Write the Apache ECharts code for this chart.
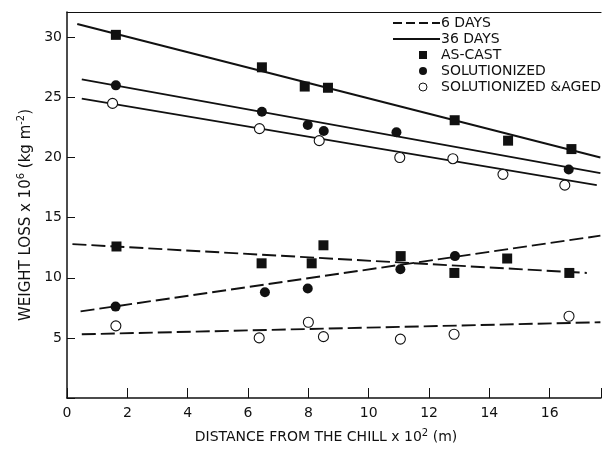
<!DOCTYPE html>
<html>
<head>
<meta charset="utf-8">
<script src="https://cdn.jsdelivr.net/npm/echarts@6/dist/echarts.min.js"></script>
<style>
  html, body { margin: 0; padding: 0; background: #fff; }
  #chart { width: 604px; height: 449px; }
</style>
</head>
<body>
<div id="chart"></div>
<script>
// distance from chill (x 10^2 m) and weight loss (x 10^6 kg m^-2)
const asCast36X = [1.62, 6.46, 7.88, 8.65, 12.85, 14.62, 16.72]
const asCast36Y = [30.2, 27.5, 25.9, 25.8, 23.1, 21.4, 20.7]
const sol36X = [1.62, 6.46, 7.98, 8.51, 10.92, 16.63]
const sol36Y = [26.0, 23.8, 22.7, 22.2, 22.1, 19.0]
const aged36X = [1.51, 6.38, 8.36, 11.03, 12.79, 14.45, 16.5]
const aged36Y = [24.5, 22.4, 21.4, 20.0, 19.9, 18.6, 17.7]

const asCast6X = [1.64, 6.45, 8.11, 8.5, 11.06, 12.84, 14.59, 16.65]
const asCast6Y = [12.6, 11.2, 11.2, 12.7, 11.8, 10.4, 11.6, 10.4]
const sol6X = [1.61, 6.56, 7.98, 11.05, 12.86]
const sol6Y = [7.6, 8.8, 9.1, 10.7, 11.8]
const aged6X = [1.62, 6.37, 8.0, 8.5, 11.05, 12.83, 16.64]
const aged6Y = [6.0, 5.0, 6.3, 5.1, 4.9, 5.3, 6.8]

// fitted lines, end points
const asCast36LineX = [0.34, 17.68], asCast36LineY = [31.1, 20.0]
const sol36LineX = [0.49, 17.68], sol36LineY = [26.5, 18.7]
const aged36LineX = [0.49, 17.56], aged36LineY = [24.9, 17.7]
const asCast6LineX = [0.18, 17.23], asCast6LineY = [12.8, 10.4]
const sol6LineX = [0.45, 17.68], sol6LineY = [7.2, 13.5]
const aged6LineX = [0.49, 17.68], aged6LineY = [5.3, 6.3]

const xTicks = [0, 2, 4, 6, 8, 10, 12, 14, 16]
const yTicks = [5, 10, 15, 20, 25, 30]

const legendItems = ['6 DAYS', '36 DAYS', 'AS-CAST', 'SOLUTIONIZED', 'SOLUTIONIZED &AGED']

const INK = '#111'
const FONT = 'DejaVu Sans'

const pairs = (xs, ys) => xs.map((x, i) => [x, ys[i]])

function fitLine(xs, ys, dashed) {
  return {
    type: 'line', data: pairs(xs, ys), symbol: 'none', silent: true,
    lineStyle: { color: INK, width: 1.9, type: dashed ? [14, 5] : 'solid' },
    z: 2
  }
}

function points(xs, ys, kind) {
  const s = {
    type: 'scatter', data: pairs(xs, ys), z: 3,
    symbol: kind === 'square' ? 'rect' : 'circle',
    symbolSize: 10,
    itemStyle: { color: INK, opacity: 1 }
  }
  if (kind === 'open') {
    s.itemStyle = { color: '#fff', borderColor: INK, borderWidth: 1.1, opacity: 1 }
  }
  return s
}

const chart = echarts.init(document.getElementById('chart'))

const lx1 = 393, lx2 = 440, tx = 441, ly = [23, 39, 55, 71, 87], mx = 423
const legendGraphics = [
  { type: 'line', shape: { x1: lx1, y1: ly[0], x2: lx2, y2: ly[0] }, style: { stroke: INK, lineWidth: 1.8, lineDash: [9, 4] } },
  { type: 'line', shape: { x1: lx1, y1: ly[1], x2: lx2, y2: ly[1] }, style: { stroke: INK, lineWidth: 1.8 } },
  { type: 'rect', shape: { x: mx - 4, y: ly[2] - 4, width: 8, height: 8 }, style: { fill: INK } },
  { type: 'circle', shape: { cx: mx, cy: ly[3], r: 4 }, style: { fill: INK } },
  { type: 'circle', shape: { cx: mx, cy: ly[4], r: 4 }, style: { fill: '#fff', stroke: INK, lineWidth: 1 } }
].concat(legendItems.map((t, i) => ({
  type: 'text', x: tx, y: ly[i],
  style: { text: t, font: '14px "' + FONT + '"', fill: INK, verticalAlign: 'middle', textVerticalAlign: 'middle' }
})))

chart.setOption({
  backgroundColor: '#fff',
  animation: false,
  grid: { left: 67, right: 3, top: 12, bottom: 43 },
  xAxis: [{
    type: 'value', min: 0, max: 17.7, interval: 2,
    axisLine: { lineStyle: { color: INK, width: 1.5 } },
    axisTick: { inside: true, length: 10, lineStyle: { color: INK } },
    axisLabel: {
      color: INK, fontFamily: FONT, fontSize: 14, margin: 8,
      formatter: v => (xTicks.includes(v) ? String(v) : '')
    },
    splitLine: { show: false },
    name: 'DISTANCE FROM THE CHILL x 10{sup|2} (m)',
    nameLocation: 'middle', nameGap: 30,
    nameTextStyle: {
      color: INK, fontFamily: FONT, fontSize: 14, padding: [0, 16, 0, 0],
      rich: { sup: { fontSize: 10, fontFamily: FONT, color: INK, padding: [0, 0, 8, 0] } }
    }
  }, {
    type: 'value', position: 'top', min: 0, max: 17.7,
    axisLine: { show: true, lineStyle: { color: INK, width: 1.2 } },
    axisTick: { show: false }, axisLabel: { show: false }, splitLine: { show: false }
  }],
  yAxis: {
    type: 'value', min: 0, max: 32.1, interval: 5,
    axisLine: { lineStyle: { color: INK, width: 1.5 } },
    axisTick: { inside: true, length: 8, lineStyle: { color: INK } },
    axisLabel: {
      color: INK, fontFamily: FONT, fontSize: 14, margin: 5,
      formatter: v => (yTicks.includes(v) ? String(v) : '')
    },
    splitLine: { show: false },
    name: 'WEIGHT LOSS x 10{sup|6} (kg m{sup|-2})',
    nameLocation: 'middle', nameGap: 30, nameRotate: 90,
    nameTextStyle: {
      color: INK, fontFamily: FONT, fontSize: 15, padding: [0, 20, 0, 0],
      rich: { sup: { fontSize: 10, fontFamily: FONT, color: INK, padding: [0, 0, 9, 0] } }
    }
  },
  series: [
    fitLine(asCast36LineX, asCast36LineY, false),
    fitLine(sol36LineX, sol36LineY, false),
    fitLine(aged36LineX, aged36LineY, false),
    fitLine(asCast6LineX, asCast6LineY, true),
    fitLine(sol6LineX, sol6LineY, true),
    fitLine(aged6LineX, aged6LineY, true),
    points(asCast36X, asCast36Y, 'square'),
    points(sol36X, sol36Y, 'filled'),
    points(aged36X, aged36Y, 'open'),
    points(asCast6X, asCast6Y, 'square'),
    points(sol6X, sol6Y, 'filled'),
    points(aged6X, aged6Y, 'open')
  ],
  graphic: legendGraphics
})
</script>
</body>
</html>
